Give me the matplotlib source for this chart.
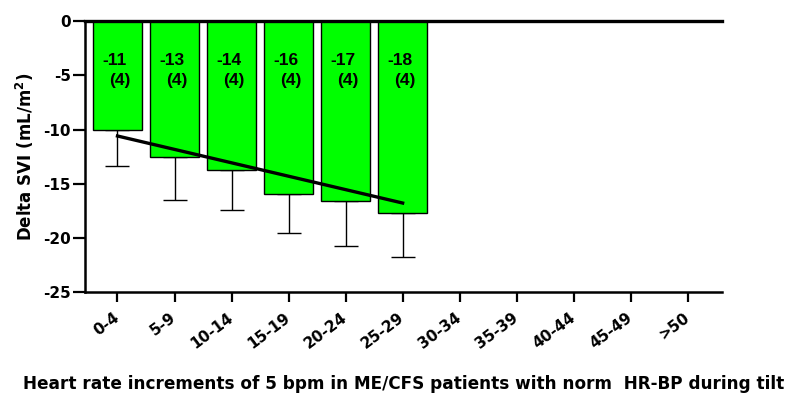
import matplotlib
matplotlib.use("Agg")
import matplotlib.pyplot as plt
import numpy as np

plt.rcParams['font.family'] = ['DejaVu Sans']

categories = ["0-4", "5-9", "10-14", "15-19", "20-24", "25-29",
              "30-34", "35-39", "40-44", "45-49", ">50"]
means = [-10.0, -12.5, -13.7, -16.0, -16.6, -17.7]
errors = [3.4, 4.0, 3.7, 3.6, 4.2, 4.1]
mean_labels = ["-11", "-13", "-14", "-16", "-17", "-18"]
n_labels = ["(4)", "(4)", "(4)", "(4)", "(4)", "(4)"]
trend_x = [0, 5]
trend_y = [-10.6, -16.8]
yticks = [0, -5, -10, -15, -20, -25]

fig = plt.figure(figsize=(7.95, 3.97), dpi=100)
ax = fig.add_axes([0.1069, 0.2652, 0.8013, 0.681])

x = np.arange(len(means))
ax.bar(x, means, width=0.86, color="#00FF00", edgecolor="black", linewidth=1.0, zorder=2)
ax.errorbar(x, means, yerr=[errors, np.zeros(len(errors))], fmt='none',
            ecolor='black', elinewidth=1.0, capsize=8.3, capthick=1.0, zorder=1)
ax.plot(trend_x, trend_y, color='black', linewidth=2.4, zorder=3)

lab_font = ['Liberation Sans', 'DejaVu Sans']
for i, (m, n) in enumerate(zip(mean_labels, n_labels)):
    ax.text(i - 0.045, -3.6, m, ha='center', va='center', fontsize=12.5,
            fontweight='bold', family=lab_font, zorder=4)
    ax.text(i + 0.035, -5.5, n, ha='center', va='center', fontsize=12.5,
            fontweight='bold', family=lab_font, zorder=4)

ax.set_xlim(-0.57, 10.6)
ax.set_ylim(-25, 0)
ax.set_xticks(np.arange(len(categories)))
ax.set_xticklabels(categories, rotation=37, ha='right', va='center', rotation_mode='anchor',
                   fontsize=11, fontweight='bold')
ax.set_yticks(yticks)
ax.set_yticklabels([str(t) for t in yticks], fontsize=11, fontweight='bold')

for s in ['left', 'bottom']:
    ax.spines[s].set_linewidth(1.8)
ax.spines['right'].set_visible(False)
ax.spines['top'].set_linewidth(2.4)
ax.tick_params(axis='x', length=7.5, width=1.6, direction='out', pad=10)
ax.tick_params(axis='y', length=9, width=1.6, direction='out', pad=1)

ax.set_ylabel("Delta SVI (mL/m$^\\mathbf{2}$)", fontsize=12, fontweight='bold', labelpad=5)
ax.set_xlabel("Heart rate increments of 5 bpm in ME/CFS patients with norm  HR-BP during tilt",
              fontsize=12.2, fontweight='bold', labelpad=17)

fig.savefig("out.png", dpi=100)
